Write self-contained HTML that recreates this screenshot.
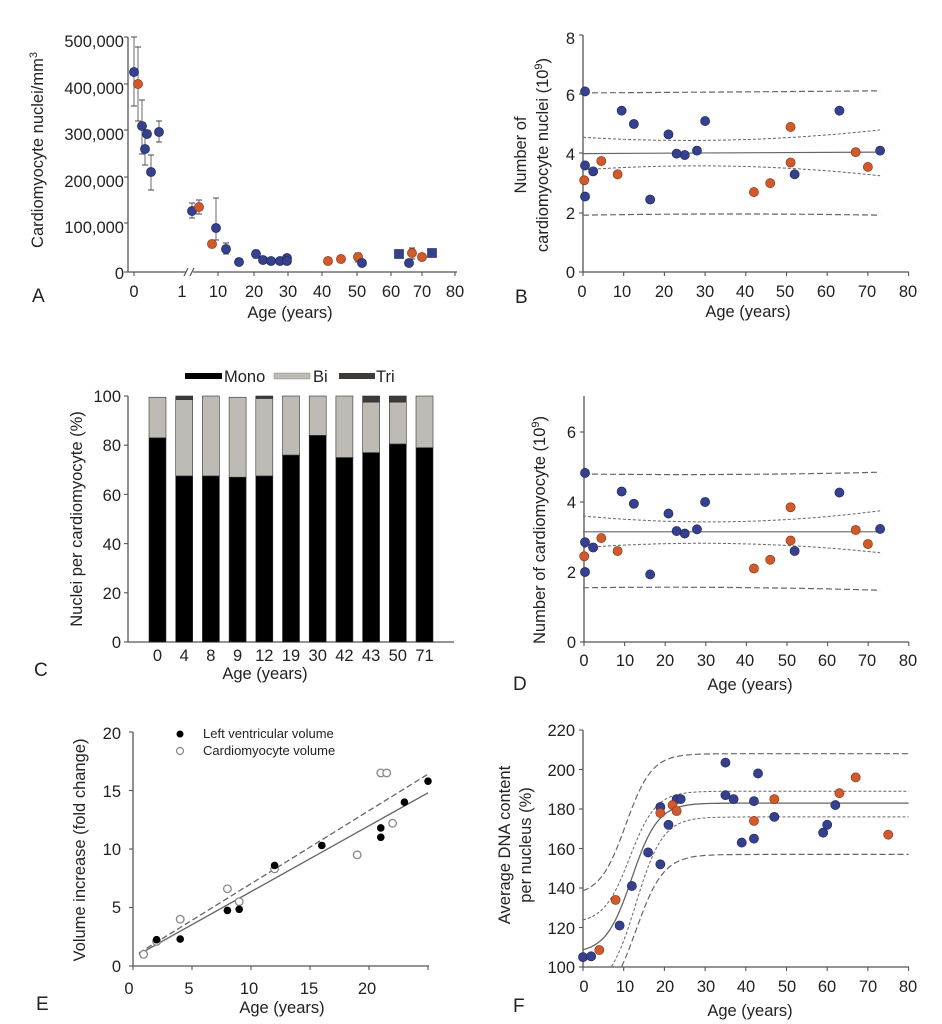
<!DOCTYPE html>
<html><head><meta charset="utf-8"><style>
html,body{margin:0;padding:0;background:#fff}
svg{display:block}
text{font-family:"Liberation Sans",Arial,sans-serif;fill:#222}
.t{font-size:16.5px}
.ax{stroke:#555;stroke-width:1.3;fill:none}
.l{font-size:19px}
</style></head><body>
<svg id="s" width="942" height="1024" viewBox="0 0 942 1024" xmlns="http://www.w3.org/2000/svg">
<!-- Panel A -->
<g id="A">
<path class="ax" d="M128,37 V272 H186 M193,272 H457"/>
<path d="M184,276 l4,-8 M190,276 l4,-8" stroke="#555" stroke-width="1.2"/>
<g class="t" text-anchor="end">
<text x="124" y="47">500,000</text><text x="124" y="94">400,000</text><text x="124" y="140">300,000</text>
<text x="124" y="187">200,000</text><text x="124" y="233">100,000</text><text x="124" y="279">0</text>
</g>
<g class="t" text-anchor="middle">
<text x="134" y="297">0</text><text x="182" y="297">1</text><text x="218" y="297">10</text><text x="254" y="297">20</text>
<text x="288" y="297">30</text><text x="322" y="297">40</text><text x="357" y="297">50</text><text x="391" y="297">60</text>
<text x="422" y="297">70</text><text x="455" y="297">80</text>
<text x="290" y="318">Age (years)</text>
</g>
<text class="t" text-anchor="middle" transform="translate(43,150) rotate(-90)">Cardiomyocyte nuclei/mm<tspan dy="-6" font-size="11">3</tspan></text>
<text class="l" x="32" y="302">A</text>
</g>
<!-- Panel B -->
<g id="B">
<path class="ax" d="M583,35 V272 H909"/>
<g class="t" text-anchor="end">
<text x="575" y="44">8</text><text x="575" y="101">6</text><text x="575" y="160">4</text><text x="575" y="219">2</text><text x="575" y="278">0</text>
</g>
<g class="t" text-anchor="middle">
<text x="582" y="297">0</text><text x="622" y="297">10</text><text x="664" y="297">20</text><text x="705" y="297">30</text>
<text x="745" y="297">40</text><text x="785" y="297">50</text><text x="826" y="297">60</text><text x="867" y="297">70</text><text x="908" y="297">80</text>
<text x="748" y="317">Age (years)</text>
</g>
<text class="t" text-anchor="middle" transform="translate(526,155) rotate(-90)">Number of</text>
<text class="t" text-anchor="middle" transform="translate(548,155) rotate(-90)">cardiomyocyte nuclei (10<tspan dy="-6" font-size="11">9</tspan><tspan dy="6">)</tspan></text>
<text class="l" x="515" y="303">B</text>
</g>
<!-- Panel C -->
<g id="C">
<path class="ax" d="M128,396 V642 H454"/>
<g class="t" text-anchor="end">
<text x="121" y="402">100</text><text x="121" y="451">80</text><text x="121" y="501">60</text><text x="121" y="550">40</text><text x="121" y="599">20</text><text x="121" y="648">0</text>
</g>
<g id="bars"></g>
<g class="t" text-anchor="middle" id="clab"></g>
<text class="t" x="265" y="679" text-anchor="middle">Age (years)</text>
<rect x="185" y="373" width="37" height="6" fill="#000"/><text class="t" x="224" y="382">Mono</text>
<rect x="274" y="373" width="36" height="6" fill="#bdbbb4" stroke="#888" stroke-width=".5"/><text class="t" x="313" y="382">Bi</text>
<rect x="339" y="373" width="36" height="6" fill="#3d3a38"/><text class="t" x="376" y="382">Tri</text>
<text class="t" text-anchor="middle" transform="translate(82,519) rotate(-90)">Nuclei per cardiomyocyte (%)</text>
<text class="l" x="34" y="676">C</text>
</g>
<!-- Panel D -->
<g id="D">
<path class="ax" d="M584,396 V642 H909"/>
<g class="t" text-anchor="end">
<text x="576" y="438">6</text><text x="576" y="508">4</text><text x="576" y="578">2</text><text x="576" y="648">0</text>
</g>
<g class="t" text-anchor="middle">
<text x="584" y="666">0</text><text x="625" y="666">10</text><text x="665" y="666">20</text><text x="706" y="666">30</text>
<text x="745" y="666">40</text><text x="787" y="666">50</text><text x="827" y="666">60</text><text x="867" y="666">70</text><text x="908" y="666">80</text>
<text x="750" y="690">Age (years)</text>
</g>
<text class="t" text-anchor="middle" transform="translate(545,530) rotate(-90)">Number of cardiomyocyte (10<tspan dy="-6" font-size="11">9</tspan><tspan dy="6">)</tspan></text>
<text class="l" x="513" y="690">D</text>
</g>
<!-- Panel E -->
<g id="E">
<path class="ax" d="M133,732 V966 H429"/>
<g class="t" text-anchor="end">
<text x="121" y="739">20</text><text x="121" y="797">15</text><text x="121" y="855">10</text><text x="121" y="913">5</text><text x="121" y="972">0</text>
</g>
<g class="t" text-anchor="middle">
<text x="129" y="994">0</text><text x="189" y="994">5</text><text x="249" y="994">10</text><text x="309" y="994">15</text><text x="367" y="994">20</text>
<text x="282" y="1013">Age (years)</text>
</g>
<circle cx="180" cy="734" r="3.5" fill="#000"/><text x="203" y="738" font-size="13">Left ventricular volume</text>
<circle cx="180" cy="751" r="3.5" fill="#fff" stroke="#888" stroke-width="1.2"/><text x="203" y="755" font-size="13">Cardiomyocyte volume</text>
<text class="t" text-anchor="middle" transform="translate(85,850) rotate(-90)">Volume increase (fold change)</text>
<text class="l" x="36" y="1010">E</text>
</g>
<!-- Panel F -->
<g id="F">
<path class="ax" d="M583,730 V967 H909"/>
<g class="t" text-anchor="end">
<text x="575" y="736">220</text><text x="575" y="776">200</text><text x="575" y="815">180</text><text x="575" y="855">160</text>
<text x="575" y="894">140</text><text x="575" y="934">120</text><text x="575" y="973">100</text>
</g>
<g class="t" text-anchor="middle">
<text x="584" y="992">0</text><text x="625" y="992">10</text><text x="665" y="992">20</text><text x="706" y="992">30</text>
<text x="746" y="992">40</text><text x="787" y="992">50</text><text x="827" y="992">60</text><text x="868" y="992">70</text><text x="908" y="992">80</text>
<text x="750" y="1016">Age (years)</text>
</g>
<text class="t" text-anchor="middle" transform="translate(510,845) rotate(-90)">Average DNA content</text>
<text class="t" text-anchor="middle" transform="translate(531,845) rotate(-90)">per nucleus (%)</text>
<text class="l" x="513" y="1012">F</text>
</g>
<g id="dyn"></g>
</svg>
<script>
var NS="http://www.w3.org/2000/svg",D=document.getElementById("dyn");
function el(n,a){var e=document.createElementNS(NS,n);for(var k in a)e.setAttribute(k,a[k]);D.appendChild(e);return e;}
var BL="#35408f",OR="#cf5a2c";
function dot(x,y,c,sq){ if(sq) el("rect",{x:x-4.5,y:y-4.5,width:9,height:9,fill:c,stroke:"#1e2550","stroke-width":0.6});
 else el("circle",{cx:x,cy:y,r:4.6,fill:c,stroke:c==BL?"#1e2550":"#8a3215","stroke-width":0.6});}
function line(pts,dash,w){el("polyline",{points:pts.map(function(p){return p[0].toFixed(1)+","+p[1].toFixed(1)}).join(" "),fill:"none",stroke:"#666","stroke-width":w||1.2,"stroke-dasharray":dash||""});}
function tick(x1,y1,x2,y2){el("line",{x1:x1,y1:y1,x2:x2,y2:y2,stroke:"#555","stroke-width":1.1});}
[37,84,130,177,223,272].forEach(function(y){tick(124,y,128,y)});
[134,218,254,288,322,357,391,422,455].forEach(function(x){tick(x,272,x,276)});
[35,94,153,213,272].forEach(function(y){tick(579,y,583,y)});
for(var i=0;i<=8;i++)tick(583+i*40.7,272,583+i*40.7,276);
for(var i=0;i<=5;i++)tick(124,642-i*49.2,128,642-i*49.2);
[432,502,572,642].forEach(function(y){tick(580,y,584,y)});
for(var i=0;i<=8;i++)tick(584+i*40.6,642,584+i*40.6,646);
for(var i=0;i<=4;i++)tick(129,966-i*58.5,133,966-i*58.5);
for(var i=0;i<=5;i++)tick(133+i*59,966,133+i*59,970);
for(var i=0;i<=6;i++)tick(579,967-i*39.5,583,967-i*39.5);
for(var i=0;i<=8;i++)tick(583+i*40.7,967,583+i*40.7,971);
[[134,37,106],[138,47,121],[142,100,154],[145,135,165],[151,155,190],[159,121,142],[192,203,218],[199,200,214],[216,198,240],[226,243,254],[256,250,258],[358,253,262],[412,248,259]].forEach(function(e){
 el("line",{x1:e[0],y1:e[1],x2:e[0],y2:e[2],stroke:"#777","stroke-width":1.1});
 tick(e[0]-3,e[1],e[0]+3,e[1]);tick(e[0]-3,e[2],e[0]+3,e[2]);});
[[134,72,BL],[138,84,OR],[142,126,BL],[147,134,BL],[145,149,BL],[151,172,BL],[159,132,BL],[192,211,BL],[199,207,OR],[216,228,BL],[212,244,OR],[226,249,BL],[239,262,BL],[256,254,BL],[263,260,BL],[271,261,BL],[280,261,BL],[287,258,BL],[287,261,BL],[328,261,OR],[341,259,OR],[358,257,OR],[362,263,BL],[409,263,BL],[412,253,OR],[422,257,OR]].forEach(function(p){dot(p[0],p[1],p[2])});
dot(399,254,BL,1);dot(432,253,BL,1);
function bx(a){return 583+a*4.07}function by(v){return 272-v*29.6}
function curve(f,x,y,a0,a1){var p=[];for(var a=a0;a<=a1;a+=1)p.push([x(a),y(f(a))]);return p;}
function q(a,b,c){return function(t){var u=t/73;return a*(1-u)*(1-u)+2*b*u*(1-u)+c*u*u}}
line(curve(q(6.05,6.08,6.12),bx,by,0,73),"6,3",1.2);
line(curve(q(1.92,2.0,1.92),bx,by,0,73),"6,3",1.2);
line(curve(q(4.55,4.25,4.8),bx,by,0,73),"3,2",1);
line(curve(q(3.45,3.8,3.25),bx,by,0,73),"3,2",1);
line([[bx(0),by(4.0)],[bx(73),by(4.05)]],"",1.2);
[[0.5,6.1,BL],[0.5,3.6,BL],[0.5,2.55,BL],[2.5,3.4,BL],[9.5,5.45,BL],[12.5,5.0,BL],[16.5,2.45,BL],[21,4.65,BL],[23,4.0,BL],[25,3.95,BL],[28,4.1,BL],[30,5.1,BL],[52,3.3,BL],[63,5.45,BL],[73,4.1,BL],
 [0.3,3.1,OR],[4.5,3.75,OR],[8.5,3.3,OR],[42,2.7,OR],[46,3.0,OR],[51,4.9,OR],[51,3.7,OR],[67,4.05,OR],[70,3.55,OR]].forEach(function(p){dot(bx(p[0]),by(p[1]),p[2])});
var cd=[["0",83,16.5,0],["4",67.5,31,1.5],["8",67.5,32.5,0],["9",67,32.5,0],["12",67.5,31.5,1],["19",76,24,0],["30",84,16,0],["42",75,25,0],["43",77,20.5,2.5],["50",80.5,17,2.5],["71",79,21,0]];
var B=document.getElementById("bars"),CL=document.getElementById("clab");
function r(x,y,w,h,f){var e=document.createElementNS(NS,"rect");e.setAttribute("x",x);e.setAttribute("y",y);e.setAttribute("width",w);e.setAttribute("height",h);e.setAttribute("fill",f);e.setAttribute("stroke","#333");e.setAttribute("stroke-width",0.6);B.appendChild(e);}
cd.forEach(function(d,i){var x=149+i*26.7,k=2.46,y0=642;
 r(x,y0-d[1]*k,17,d[1]*k,"#000");r(x,y0-(d[1]+d[2])*k,17,d[2]*k,"#bdbbb4");
 if(d[3])r(x,y0-(d[1]+d[2]+d[3])*k,17,d[3]*k,"#3d3a38");
 var t=document.createElementNS(NS,"text");t.setAttribute("x",x+8.5);t.setAttribute("y",661);t.textContent=d[0];CL.appendChild(t);});
function dy(v){return 642-v*35}
line(curve(q(4.8,4.75,4.85),bx,dy,0,73),"6,3",1.2);
line(curve(q(1.55,1.6,1.48),bx,dy,0,73),"6,3",1.2);
line(curve(q(3.6,3.2,3.75),bx,dy,0,73),"3,2",1);
line(curve(q(2.7,3.0,2.55),bx,dy,0,73),"3,2",1);
line([[bx(0),dy(3.15)],[bx(73),dy(3.15)]],"",1.2);
[[0.5,4.83,BL],[0.5,2.85,BL],[0.5,2.0,BL],[2.5,2.7,BL],[9.5,4.3,BL],[12.5,3.95,BL],[16.5,1.93,BL],[21,3.67,BL],[23,3.17,BL],[25,3.1,BL],[28,3.22,BL],[30,4.0,BL],[52,2.6,BL],[63,4.27,BL],[73,3.23,BL],
 [0.3,2.45,OR],[4.5,2.97,OR],[8.5,2.6,OR],[42,2.1,OR],[46,2.35,OR],[51,3.85,OR],[51,2.9,OR],[67,3.2,OR],[70,2.8,OR]].forEach(function(p){dot(bx(p[0]),dy(p[1]),p[2])});
function ex(a){return 133+a*11.8}function ey(v){return 966-v*11.7}
line([[ex(0.5),ey(1.0)],[ex(25),ey(14.8)]],"",1.4);
line([[ex(0.5),ey(1.1)],[ex(25),ey(16.4)]],"6,3",1.3);
[[2,2.1],[4,4.0],[8,6.6],[9,5.5],[12,8.3],[19,9.5],[21,16.5],[21.5,16.5],[22,12.2],[0.9,1.0]].forEach(function(p){el("circle",{cx:ex(p[0]),cy:ey(p[1]),r:3.8,fill:"#fff",stroke:"#888","stroke-width":1.3})});
[[2,2.25],[4,2.3],[8,4.75],[9,4.85],[12,8.6],[16,10.3],[21,11.8],[21,11.0],[23,14.0],[25,15.8]].forEach(function(p){el("circle",{cx:ex(p[0]),cy:ey(p[1]),r:3.8,fill:"#000"})});
function fx(a){return 583+a*4.07}function fy(v){return 967-(v-100)*1.975}
function sig(lo,hi,c,s){return function(t){return lo+(hi-lo)/(1+Math.exp(-(t-c)/s))}}
function scurve(f,dash,w){var p=[];for(var a=0;a<=80;a+=0.5){var v=f(a);if(v>=100)p.push([fx(a),fy(v)]);}line(p,dash,w);}
scurve(sig(136,208,10.5,3.2),"6,3",1.2);
scurve(sig(122,189,11.5,3.2),"3,2",1);
scurve(sig(107,183,12,3.2),"",1.3);
scurve(sig(88,176,13,3.3),"3,2",1);
scurve(sig(80,157,13,3.4),"6,3",1.2);
[[0,105],[2,105.4],[9,121],[12,141],[16,158],[19,181],[19,152],[21,172],[23,185],[24,185],[35,203.5],[35,187],[37,185],[39,163],[42,184],[42,165],[43,198],[47,176],[59,168],[60,172],[62,182]].forEach(function(p){dot(fx(p[0]),fy(p[1]),BL)});
[[4,108.6],[8,134],[19,178],[22,182],[23,179],[42,174],[47,185],[63,188],[67,196],[75,167]].forEach(function(p){dot(fx(p[0]),fy(p[1]),OR)});
</script>
</body></html>
